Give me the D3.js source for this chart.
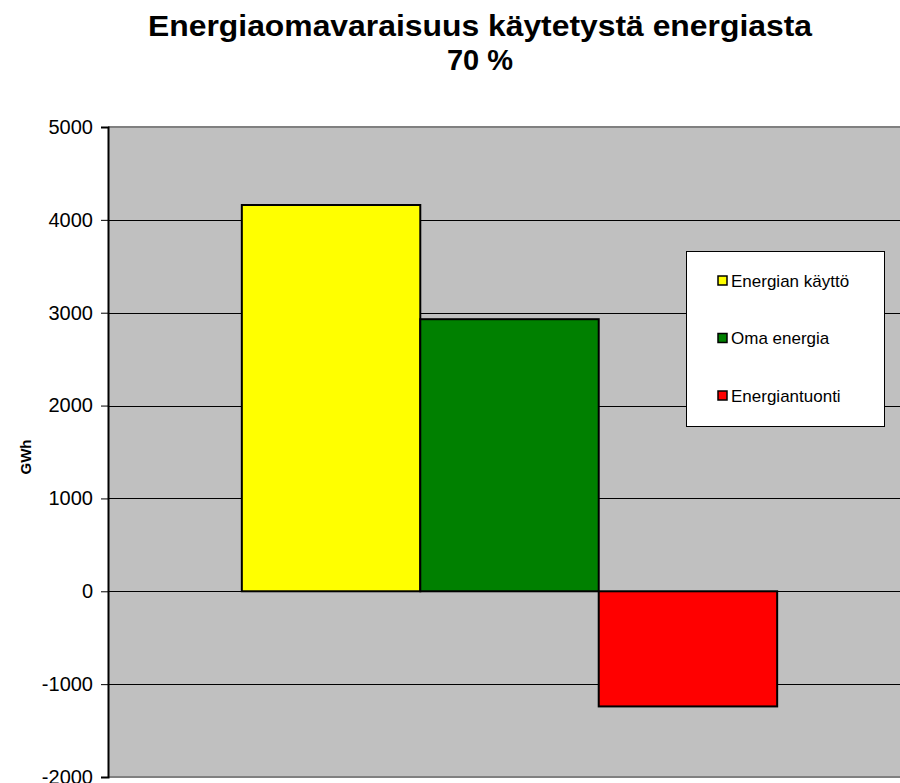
<!DOCTYPE html>
<html>
<head>
<meta charset="utf-8">
<script src="https://cdn.jsdelivr.net/npm/d3@7"></script>
<style>
  body { margin: 0; background: #fff; }
  svg { display: block; font-family: Arial, "Liberation Sans", sans-serif; }
</style>
</head>
<body>
<svg id="chart" width="900" height="783"></svg>
<script>
// chart data
var categories = ['2010'];
var series = ['Energian käyttö', 'Oma energia', 'Energiantuonti'];
var values = [4160, 2930, -1240];
var colors = ['#FFFF00', '#008000', '#FF0000'];
var yTicks = [-2000, -1000, 0, 1000, 2000, 3000, 4000, 5000];

var svg = d3.select('#chart');
var plotLeft = 108, plotRight = 911, plotTop = 127, plotBottom = 777;

var y = d3.scaleLinear().domain([-2000, 5000]).range([plotBottom, plotTop]);
var x0 = d3.scaleBand().domain(categories).range([plotLeft, plotRight]).paddingOuter(0.25).paddingInner(0);
var x1 = d3.scaleBand().domain(series).range([0, x0.bandwidth()]);

// plot background
svg.append('rect')
  .attr('x', plotLeft).attr('y', plotTop)
  .attr('width', plotRight - plotLeft).attr('height', plotBottom - plotTop)
  .attr('fill', '#C0C0C0');

// top / bottom border
svg.append('line').attr('x1', plotLeft).attr('x2', plotRight).attr('y1', plotTop).attr('y2', plotTop)
  .attr('stroke', '#808080').attr('stroke-width', 2);
svg.append('line').attr('x1', plotLeft).attr('x2', plotRight).attr('y1', plotBottom).attr('y2', plotBottom)
  .attr('stroke', '#808080').attr('stroke-width', 2);

// gridlines
svg.append('g').selectAll('line')
  .data(yTicks.filter(function(d) { return d > -2000 && d < 5000; }))
  .join('line')
  .attr('x1', plotLeft).attr('x2', plotRight)
  .attr('y1', function(d) { return Math.round(y(d)) + 0.5; })
  .attr('y2', function(d) { return Math.round(y(d)) + 0.5; })
  .attr('stroke', '#000').attr('stroke-width', 1);

// bars
var g = svg.append('g').attr('transform', 'translate(' + x0(categories[0]) + ',0)');
g.selectAll('rect')
  .data(values)
  .join('rect')
  .attr('x', function(d, i) { return x1(series[i]); })
  .attr('y', function(d) { return y(Math.max(0, d)); })
  .attr('width', x1.bandwidth())
  .attr('height', function(d) { return Math.abs(y(d) - y(0)); })
  .attr('fill', function(d, i) { return colors[i]; })
  .attr('stroke', '#000').attr('stroke-width', 2);

// y axis (plain hyphen for negatives, like the original)
var yAxis = d3.axisLeft(y).tickValues(yTicks)
  .tickFormat(function(d) { return String(d); })
  .tickSize(7).tickPadding(8);
var ax = svg.append('g').attr('transform', 'translate(' + plotLeft + ',0)').call(yAxis);
ax.select('.domain').attr('stroke', '#000').attr('stroke-width', 2);
ax.selectAll('.tick line').attr('stroke', '#000');
ax.selectAll('.tick text').attr('font-size', 20).attr('fill', '#000')
  .attr('font-family', 'Arial, "Liberation Sans", sans-serif');

// y label
svg.append('text')
  .attr('transform', 'translate(31,457) rotate(-90)')
  .attr('text-anchor', 'middle')
  .attr('font-size', 15).attr('font-weight', 'bold')
  .text('GWh');

// title
svg.append('text')
  .attr('x', 480).attr('y', 36)
  .attr('text-anchor', 'middle')
  .attr('font-size', 29).attr('font-weight', 'bold')
  .attr('textLength', 664).attr('lengthAdjust', 'spacingAndGlyphs')
  .text('Energiaomavaraisuus käytetystä energiasta');
svg.append('text')
  .attr('x', 480).attr('y', 70)
  .attr('text-anchor', 'middle')
  .attr('font-size', 29).attr('font-weight', 'bold')
  .text('70 %');

// legend
var lg = svg.append('g').attr('transform', 'translate(686,251)');
lg.append('rect').attr('x', 0.5).attr('y', 0.5).attr('width', 198).attr('height', 175)
  .attr('fill', '#fff').attr('stroke', '#000').attr('stroke-width', 1);
var item = lg.selectAll('g.item').data(series).join('g')
  .attr('class', 'item')
  .attr('transform', function(d, i) { return 'translate(32,' + (30 + i * 57.5) + ')'; });
item.append('rect')
  .attr('x', 0).attr('y', -5).attr('width', 9).attr('height', 9)
  .attr('fill', function(d, i) { return colors[i]; })
  .attr('stroke', '#000').attr('stroke-width', 1.5);
item.append('text')
  .attr('x', 13).attr('y', 0).attr('dy', '0.35em')
  .attr('font-size', 17)
  .text(function(d) { return d; });
</script>
</body>
</html>
